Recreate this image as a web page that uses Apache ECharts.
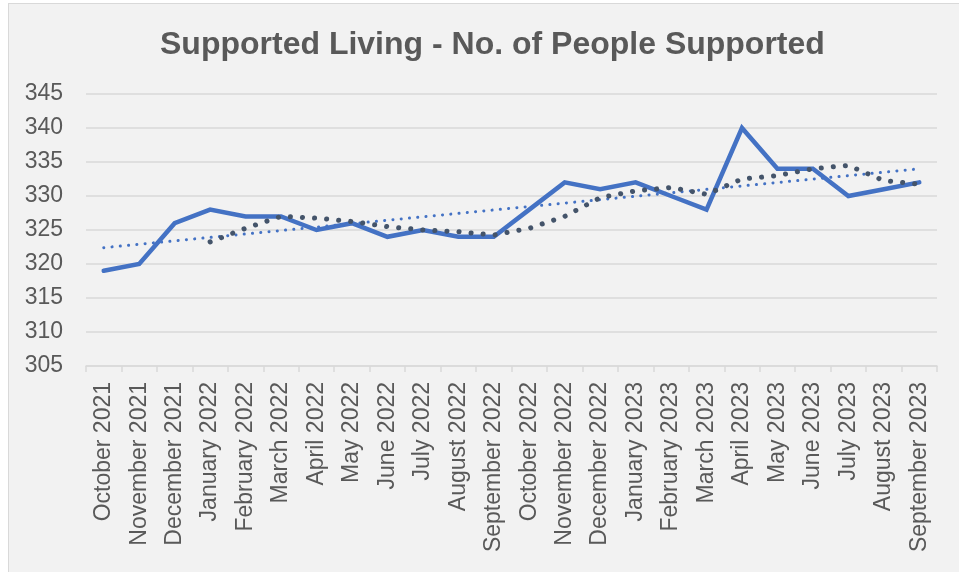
<!DOCTYPE html>
<html>
<head>
<meta charset="utf-8">
<script src="https://cdn.jsdelivr.net/npm/echarts@6/dist/echarts.min.js"></script>
<style>
  html, body { margin: 0; padding: 0; background: #ffffff; overflow: hidden; }
  #frame { position: absolute; left: 8px; top: 3px; width: 960px; height: 580px; background: #f2f2f2; border: 1.5px solid #d9d9d9; box-sizing: border-box; }
  #chart { position: absolute; left: 0; top: 0; width: 959px; height: 572px; }
</style>
</head>
<body>
<div id="frame"></div>
<div id="chart"></div>
<script>
const chartTitle = 'Supported Living - No. of People Supported';
const categories = [
  'October 2021','November 2021','December 2021','January 2022','February 2022','March 2022',
  'April 2022','May 2022','June 2022','July 2022','August 2022','September 2022',
  'October 2022','November 2022','December 2022','January 2023','February 2023','March 2023',
  'April 2023','May 2023','June 2023','July 2023','August 2023','September 2023'
];
const peopleSupported = [319, 320, 326, 328, 327, 327, 325, 326, 324, 325, 324, 324,
                         328, 332, 331, 332, 330, 328, 340, 334, 334, 330, 331, 332];
// 4-period moving average trendline (starts at January 2022)
const movingAverage = [null, null, null, 323.25, 325.25, 327, 326.75, 326.25, 325.5, 325, 324.75, 324.25,
                       325.25, 327, 329.75, 330.75, 331.25, 330.25, 332.5, 333, 334, 334.5, 332.25, 331.75];
// linear trendline end points
const linearTrend = [['October 2021', 322.4], ['September 2023', 334.0]];
const yMin = 305, yMax = 345, yStep = 5;

const chart = echarts.init(document.getElementById('chart'), null, { renderer: 'canvas' });
const font = 'Liberation Sans, Arial, sans-serif';
chart.setOption({
  animation: false,
  backgroundColor: 'transparent',
  title: {
    text: chartTitle,
    left: 155,
    top: 24,
    textStyle: { fontFamily: font, fontSize: 32, fontWeight: 'bold', color: '#595959' }
  },
  grid: { left: 86, right: 22, top: 94, bottom: 206, containLabel: false },
  xAxis: {
    type: 'category',
    data: categories,
    boundaryGap: true,
    axisLine: { show: true, lineStyle: { color: '#d9d9d9', width: 1.5 } },
    axisTick: { show: true, alignWithLabel: false, length: 6, lineStyle: { color: '#d9d9d9', width: 1.5 } },
    axisLabel: { interval: 0, rotate: 90, margin: 16, fontFamily: font, fontSize: 23, color: '#595959' },
    splitLine: { show: false }
  },
  yAxis: {
    type: 'value',
    min: yMin, max: yMax, interval: yStep,
    axisLine: { show: false },
    axisTick: { show: false },
    axisLabel: { margin: 23, fontFamily: font, fontSize: 23, color: '#595959' },
    splitLine: { show: true, lineStyle: { color: '#d9d9d9', width: 1.5 } }
  },
  series: [
    {
      name: 'People Supported',
      type: 'line',
      data: peopleSupported,
      symbol: 'none',
      lineStyle: { color: '#4472C4', width: 4.5, cap: 'round', join: 'miter' },
      z: 2
    },
    {
      name: 'Linear trend',
      type: 'line',
      data: linearTrend,
      symbol: 'none',
      lineStyle: { color: '#4472C4', width: 3, type: [0.1, 8.2], cap: 'round' },
      z: 3
    },
    {
      name: '4 per. Mov. Avg.',
      type: 'line',
      data: movingAverage,
      symbol: 'none',
      connectNulls: false,
      lineStyle: { color: '#44546A', width: 5, type: [0.1, 12], cap: 'round' },
      z: 4
    }
  ]
});
</script>
</body>
</html>
